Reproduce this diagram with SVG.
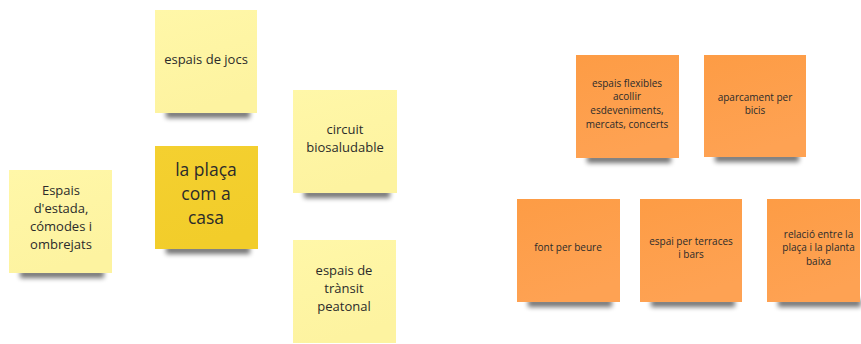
<svg xmlns="http://www.w3.org/2000/svg" width="861" height="344" viewBox="0 0 861 344">
  <defs>
    <filter id="blur" x="-20%" y="-150%" width="140%" height="400%">
      <feGaussianBlur stdDeviation="2.5"/>
    </filter>
    <linearGradient id="gy" x1="0" y1="0" x2="0.3" y2="1">
      <stop offset="0" stop-color="#fff7a8"/>
      <stop offset="1" stop-color="#fdf3a0"/>
    </linearGradient>
    <linearGradient id="gc" x1="0" y1="0" x2="0.3" y2="1">
      <stop offset="0" stop-color="#f4d030"/>
      <stop offset="1" stop-color="#f2cd2a"/>
    </linearGradient>
    <linearGradient id="go" x1="0" y1="0" x2="0.3" y2="1">
      <stop offset="0" stop-color="#fd9c45"/>
      <stop offset="1" stop-color="#fea253"/>
    </linearGradient>
  </defs>
  <style>
    .sh { fill: #000; opacity: 0.55; filter: url(#blur); }
    .y { fill: url(#gy); }
    .c { fill: url(#gc); }
    .o { fill: url(#go); }
    text { font-family: "Open Sans", "Noto Sans", "Liberation Sans", sans-serif; fill: #2b2b2b; text-anchor: middle; }
    .t13 { font-size: 13px; }
    .t17 { font-size: 17.5px; }
    .t10 { font-size: 10px; }
  </style>
  <g id="connectors"/>

  <g id="jocs">
    <rect class="sh" x="166" y="110" width="84" height="8"/>
    <rect class="y" x="155" y="10" width="102" height="103"/>
    <text class="t13" x="206" y="64">espais de jocs</text>
  </g>

  <g id="circuit">
    <rect class="sh" x="304" y="190" width="86" height="8"/>
    <rect class="y" x="293" y="90" width="104" height="103"/>
    <text class="t13"><tspan x="345" y="134">circuit</tspan><tspan x="345" y="152">biosaludable</tspan></text>
  </g>

  <g id="placa">
    <rect class="sh" x="166" y="246" width="84" height="8"/>
    <rect class="c" x="155" y="146" width="103" height="103"/>
    <text class="t17"><tspan x="206" y="176">la plaça</tspan><tspan x="206" y="200">com a</tspan><tspan x="206" y="224">casa</tspan></text>
  </g>

  <g id="estada">
    <rect class="sh" x="20" y="270" width="84" height="8"/>
    <rect class="y" x="9" y="170" width="103" height="103"/>
    <text class="t13"><tspan x="61" y="195">Espais</tspan><tspan x="61" y="213">d'estada,</tspan><tspan x="61" y="231">cómodes i</tspan><tspan x="61" y="249">ombrejats</tspan></text>
  </g>

  <g id="transit">
    <rect class="y" x="293" y="240" width="103" height="103"/>
    <text class="t13"><tspan x="344" y="275">espais de</tspan><tspan x="344" y="293">trànsit</tspan><tspan x="344" y="311">peatonal</tspan></text>
  </g>

  <g id="flexibles">
    <rect class="sh" x="587" y="155" width="84" height="8"/>
    <rect class="o" x="576" y="55" width="103" height="103"/>
    <text class="t10"><tspan x="627" y="86.5">espais flexibles</tspan><tspan x="627" y="100.2">acollir</tspan><tspan x="627" y="113.9">esdeveniments,</tspan><tspan x="627" y="127.6">mercats, concerts</tspan></text>
  </g>

  <g id="aparcament">
    <rect class="sh" x="715" y="154" width="84" height="8"/>
    <rect class="o" x="704" y="55" width="102" height="102"/>
    <text class="t10"><tspan x="755" y="100.5">aparcament per</tspan><tspan x="755" y="114">bicis</tspan></text>
  </g>

  <g id="font">
    <rect class="sh" x="528" y="299" width="84" height="8"/>
    <rect class="o" x="517" y="199" width="103" height="103"/>
    <text class="t10" x="568" y="251">font per beure</text>
  </g>

  <g id="terrasses">
    <rect class="sh" x="651" y="299" width="84" height="8"/>
    <rect class="o" x="640" y="199" width="102" height="103"/>
    <text class="t10"><tspan x="691" y="244.5">espai per terraces</tspan><tspan x="691" y="258">i bars</tspan></text>
  </g>

  <g id="relacio">
    <rect class="sh" x="778" y="299" width="83" height="8"/>
    <rect class="o" x="767" y="199" width="93" height="103"/>
    <text class="t10"><tspan x="818.5" y="237.5">relació entre la</tspan><tspan x="818.5" y="251">plaça i la planta</tspan><tspan x="818.5" y="264.5">baixa</tspan></text>
  </g>
</svg>
